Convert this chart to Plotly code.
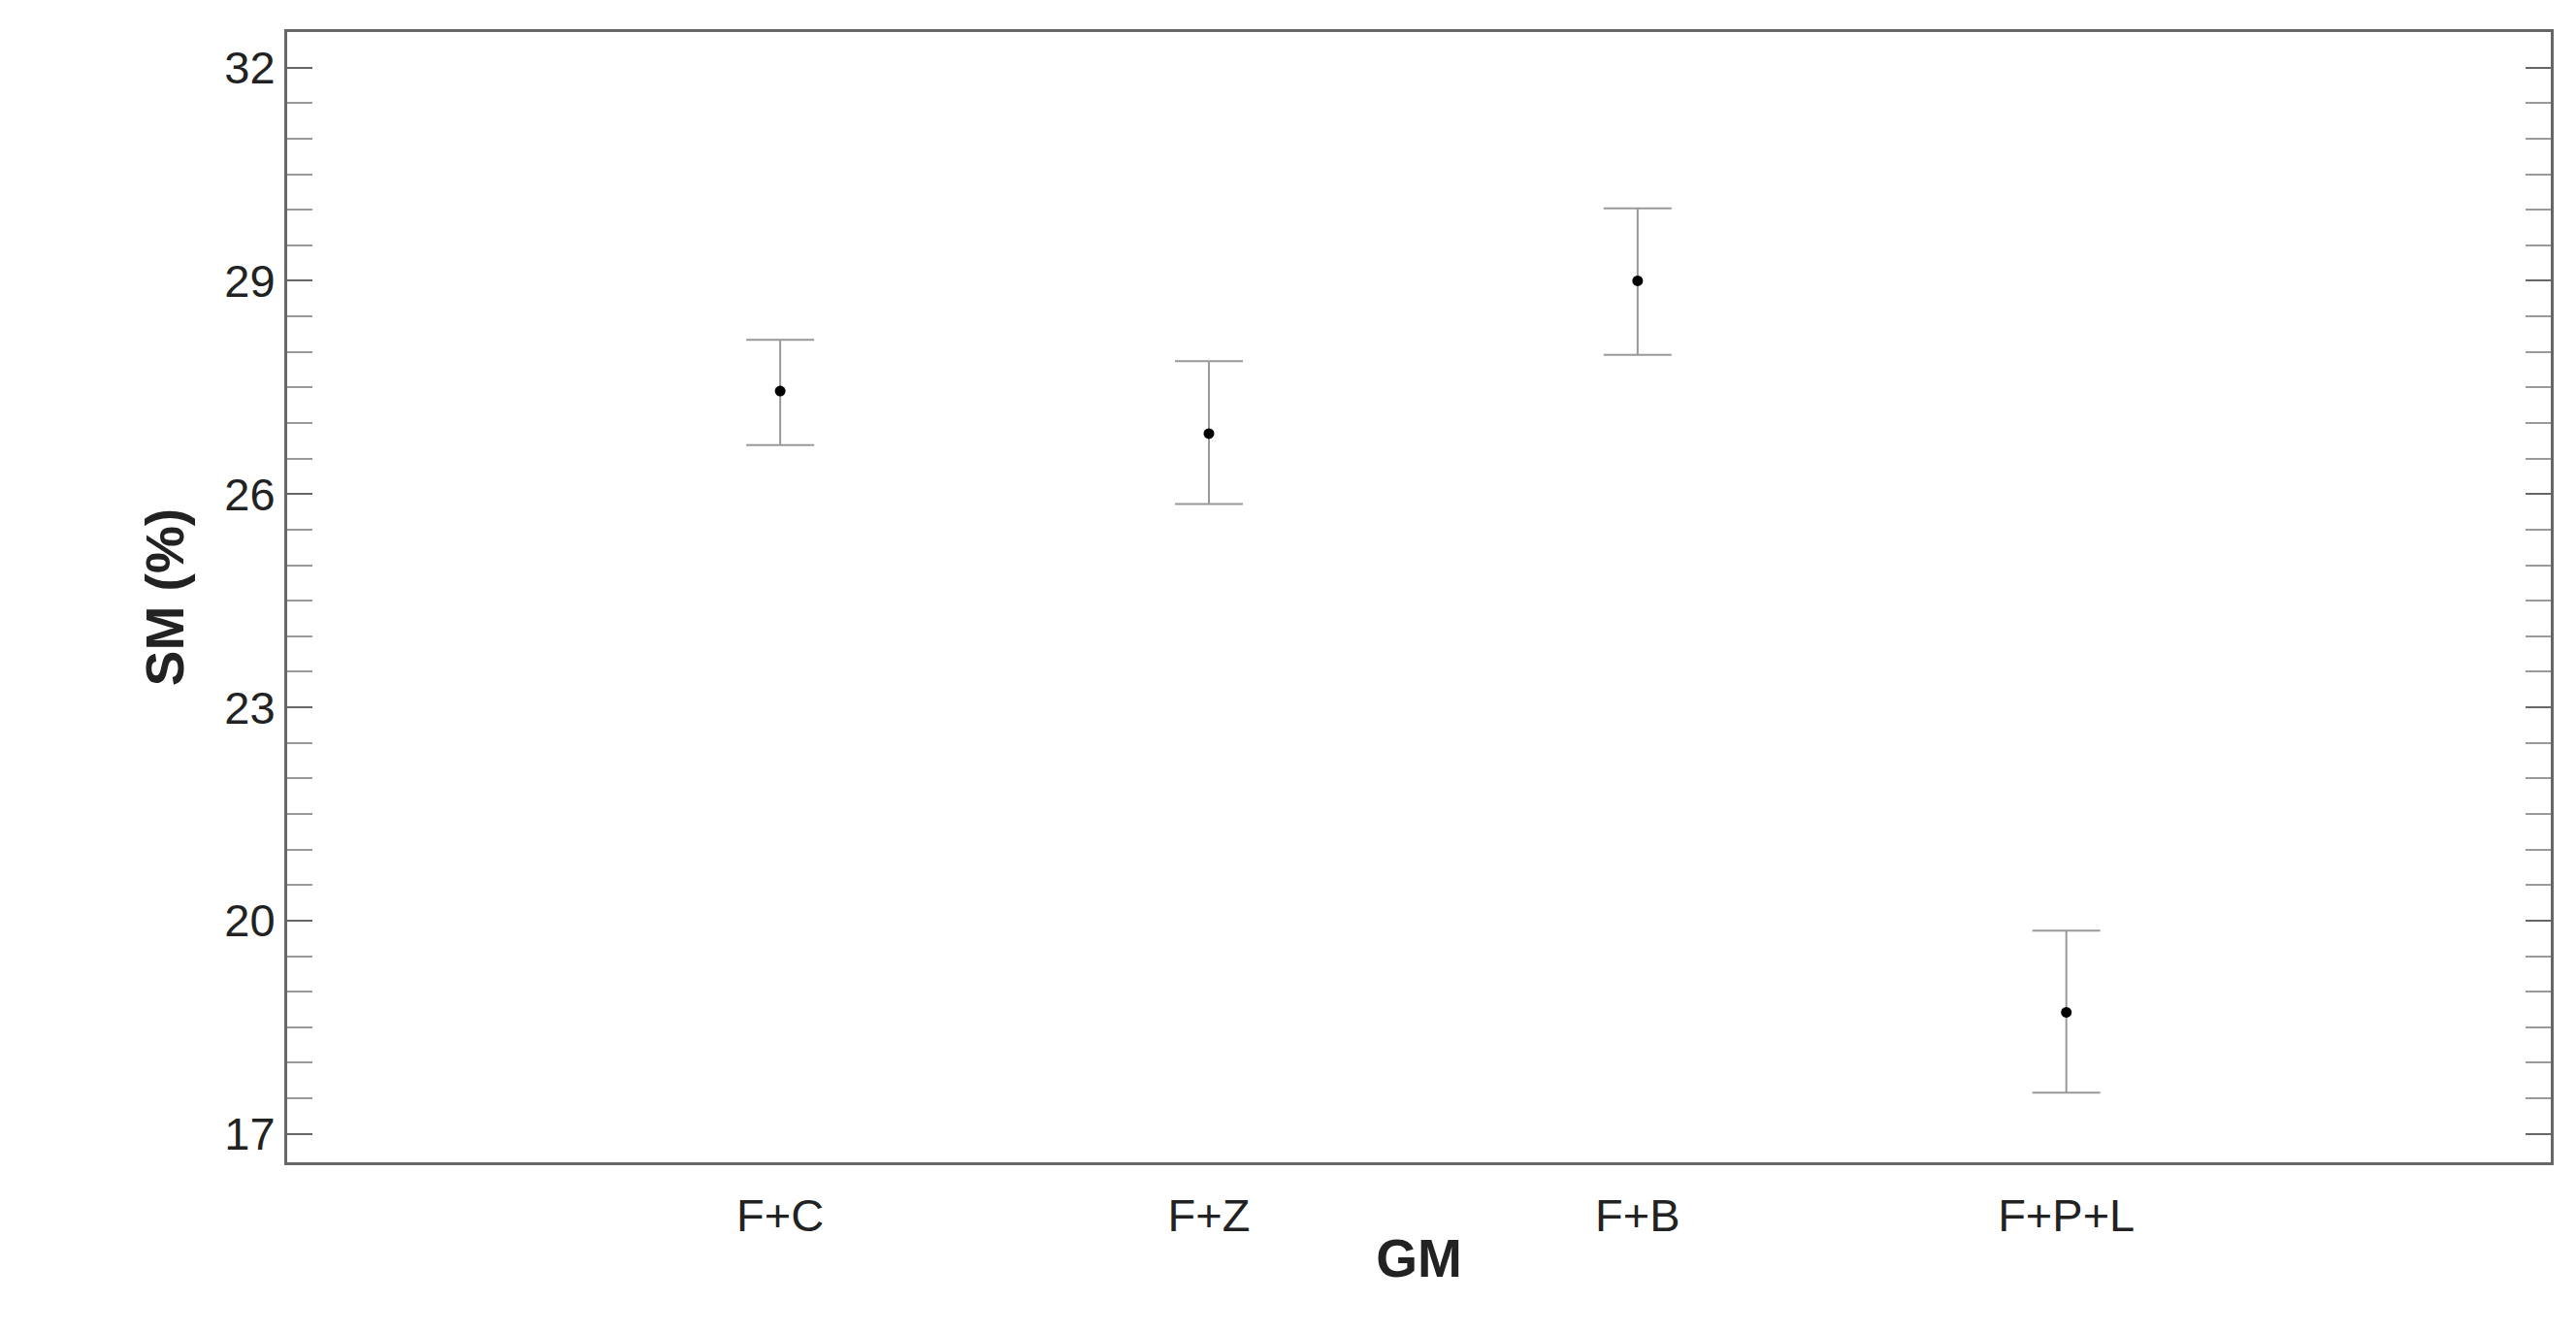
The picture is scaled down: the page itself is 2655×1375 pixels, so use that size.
import plotly.graph_objects as go

groups = ["F+C", "F+Z", "F+B", "F+P+L"]
means = [27.45, 26.85, 29.0, 18.71]
upper = [28.17, 27.87, 30.02, 19.86]
lower = [26.69, 25.86, 27.96, 17.58]

xpos = list(range(len(groups)))
fig = go.Figure(go.Scatter(
    x=xpos, y=means, mode="markers",
    marker=dict(color="black", size=11),
    error_y=dict(type="data", symmetric=False,
                 array=[u - m for u, m in zip(upper, means)],
                 arrayminus=[m - l for m, l in zip(means, lower)],
                 color="#999999", thickness=2, width=35),
    showlegend=False))

fig.update_layout(
    width=2655, height=1375, plot_bgcolor="white", paper_bgcolor="white",
    margin=dict(l=288, r=34, t=25, b=185),
    font=dict(family="Liberation Sans, Arial", size=47, color="#222"))
fig.update_xaxes(range=[-1.15, 4.13], tickvals=xpos, ticktext=groups,
                 showline=True, linecolor="#666", linewidth=3, mirror=True,
                 showgrid=False, ticks="outside", ticklen=12, tickcolor="white",
                 zeroline=False,
                 title=dict(text="<b>GM</b>", font=dict(size=55), standoff=0))
fig.update_yaxes(range=[16.6, 32.5], tickvals=[17, 20, 23, 26, 29, 32],
                 showline=True, linecolor="#666", linewidth=3, mirror="ticks",
                 showgrid=False, zeroline=False, ticks="inside", ticklen=26,
                 tickcolor="#666", tickwidth=2,
                 minor=dict(dtick=0.5, tick0=17, ticks="inside", ticklen=26,
                            tickcolor="#999", tickwidth=2),
                 title=dict(text="<b>SM (%)</b>", font=dict(size=55), standoff=25))

fig.write_html("out.html")
